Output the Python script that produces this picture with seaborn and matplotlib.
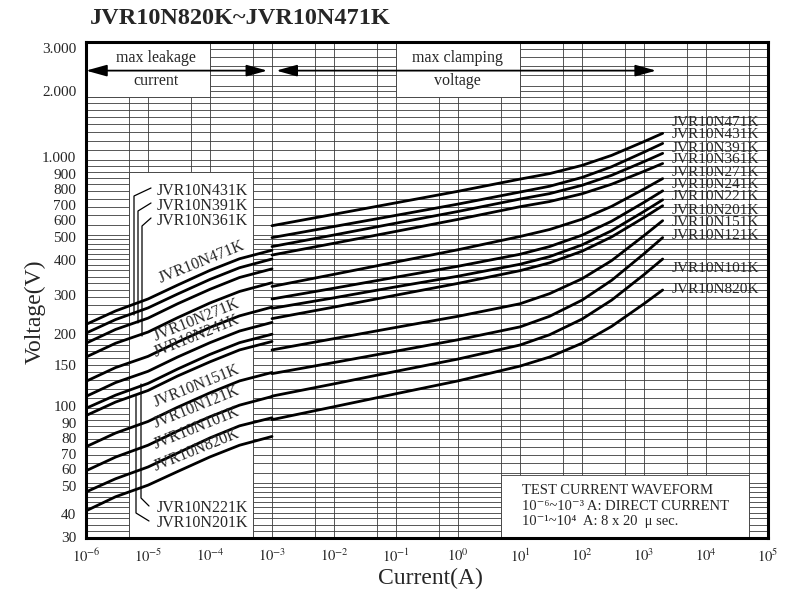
import numpy as np
import pandas as pd
import matplotlib
matplotlib.use('Agg')
import matplotlib.pyplot as plt
import seaborn as sns
from matplotlib.patches import Rectangle
from matplotlib.lines import Line2D
from matplotlib.ticker import FixedLocator, NullFormatter
from matplotlib.transforms import ScaledTranslation

sns.set_theme(style='white')
plt.rcParams['font.family'] = ['Liberation Serif', 'DejaVu Serif']
plt.rcParams['mathtext.fontset'] = 'stix'

# ---------------- data ----------------
names = ['JVR10N471K', 'JVR10N431K', 'JVR10N391K', 'JVR10N361K',
         'JVR10N271K', 'JVR10N241K', 'JVR10N221K', 'JVR10N201K',
         'JVR10N151K', 'JVR10N121K', 'JVR10N101K', 'JVR10N820K']

# leakage-current region (1e-6 .. 1e-3 A)
leak_current = [1e-6, 3e-6, 1e-5, 3e-5, 1e-4, 3e-4, 1e-3]
leak_471 = [218, 247, 276, 314, 360, 401, 434]
leak_431 = [201, 228, 254, 289, 331, 369, 400]
leak_391 = [183, 208, 231, 264, 302, 337, 365]
leak_361 = [161, 183, 203, 232, 266, 296, 321]
leak_271 = [128.5, 146, 162, 185, 212, 236, 256]
leak_241 = [111.7, 127, 141, 161, 184, 205, 222]
leak_221 = [100, 113, 126, 144, 165, 184, 199]
leak_201 = [93.5, 106, 118, 135, 154, 172, 186]
leak_151 = [70, 79.5, 88.5, 101, 115.5, 129, 139.5]
leak_121 = [56, 63.6, 71, 81, 92.5, 103, 111.6]
leak_101 = [46, 52, 58, 66, 76, 85, 91.6]
leak_820 = [38.6, 44, 49, 55.6, 63.7, 71, 77]

# clamping-voltage region (1e-3 .. 2e3 A)
clamp_current = [1e-3, 1e-2, 1e-1, 1, 10, 30, 100, 300, 1000, 2000]
clamp_471 = [545, 606, 674, 750, 840, 884, 954, 1047, 1190, 1285]
clamp_431 = [488, 541, 600, 666, 745, 786, 853, 942, 1079, 1170]
clamp_391 = [449, 500, 558, 622, 698, 734, 793, 870, 988, 1067]
clamp_361 = [415, 463, 517, 578, 650, 682, 733, 801, 903, 971]
clamp_271 = [310, 347, 389, 436, 493, 526, 579, 652, 766, 844]
clamp_241 = [276, 305, 338, 374, 418, 449, 499, 568, 677, 753]
clamp_221 = [253, 279, 309, 341, 381, 409, 456, 520, 622, 693]
clamp_201 = [230, 256, 286, 319, 359, 386, 430, 491, 588, 656]
clamp_151 = [172, 191, 212, 235, 264, 290, 333, 394, 497, 571]
clamp_121 = [138, 153, 170, 189, 213, 235, 273, 328, 420, 488]
clamp_101 = [112, 125.5, 141, 158, 180, 198, 229, 273, 346, 400]
clamp_820 = [90, 101.5, 114.5, 129, 148, 161, 183, 214, 264, 300]

leak_series = [leak_471, leak_431, leak_391, leak_361, leak_271, leak_241,
               leak_221, leak_201, leak_151, leak_121, leak_101, leak_820]
clamp_series = [clamp_471, clamp_431, clamp_391, clamp_361, clamp_271, clamp_241,
                clamp_221, clamp_201, clamp_151, clamp_121, clamp_101, clamp_820]

y_ticks = [30, 40, 50, 60, 70, 80, 90, 100, 150, 200, 300, 400, 500,
           600, 700, 800, 900, 1000, 2000, 3000]
y_ticklabels = ['30', '40', '50', '60', '70', '80', '90', '100', '150', '200',
                '300', '400', '500', '600', '700', '800', '900',
                '1.000', '2.000', '3.000']
x_exponents = list(range(-6, 6))

rows = []
for n, lv, cv in zip(names, leak_series, clamp_series):
    for c, v in zip(leak_current, lv):
        rows.append((n + '_leak', c, v))
    for c, v in zip(clamp_current, cv):
        rows.append((n + '_clamp', c, v))
df = pd.DataFrame(rows, columns=['segment', 'current', 'voltage'])

# ---------------- figure ----------------
W, H = 798, 595
fig = plt.figure(figsize=(W / 100, H / 100), dpi=100)
ax = fig.add_axes([86 / W, 1 - 538 / H, (768 - 86) / W, (538 - 42) / H])

for seg, g in df.groupby('segment', sort=False):
    sns.lineplot(data=g, x='current', y='voltage', ax=ax, color='black',
                 lw=2.0, sort=False, estimator=None, zorder=4)

ax.set_xscale('log')
ax.set_yscale('log')
ax.set_xlim(1e-6, 1e5)
ax.set_ylim(30, 3000)
ax.set_xlabel('')
ax.set_ylabel('')

# grid
ax.xaxis.set_major_locator(FixedLocator([10.0 ** e for e in x_exponents]))
ax.set_xticklabels([r'$10^{%d}$' % e for e in x_exponents], fontsize=10.5)
ax.xaxis.set_minor_locator(FixedLocator([5 * 10.0 ** e for e in range(-6, 5)]))
ax.xaxis.set_minor_formatter(NullFormatter())

hgrid = (list(range(30, 50, 2)) + list(range(50, 100, 5)) + list(range(100, 200, 10))
         + list(range(200, 500, 20)) + list(range(500, 1000, 50))
         + list(range(1000, 2000, 100)) + list(range(2000, 3001, 200)))
ax.yaxis.set_major_locator(FixedLocator(y_ticks))
ax.set_yticklabels(y_ticklabels, fontsize=11)
ax.yaxis.set_minor_locator(FixedLocator(hgrid))
ax.yaxis.set_minor_formatter(NullFormatter())

ax.set_axisbelow(True)
ax.grid(which='both', color='#3a3a3a', lw=0.6)
ax.tick_params(which='both', length=0)
ax.tick_params(axis='y', pad=7)
ax.tick_params(axis='x', pad=7)
for sp in ax.spines.values():
    sp.set_color('black')
    sp.set_linewidth(2.2)
    sp.set_zorder(6)

# the printed labels are spread apart where the log ticks crowd (pixels down)
label_shift = {3000: 6, 2000: 5, 1000: -3, 900: 2, 800: 5, 700: 6, 600: 5,
               500: 2, 400: 1, 300: 5, 100: -2, 90: 3, 80: 6, 70: 7, 60: 6,
               50: 3, 40: 7, 30: -1}
for lbl, val in zip(ax.get_yticklabels(), y_ticks):
    off = label_shift.get(val, 0)
    lbl.set_transform(lbl.get_transform()
                      + ScaledTranslation(0, -off / 100, fig.dpi_scale_trans))

# white label boxes that interrupt the grid
boxes = [((1e-6, 1800), (1e-4, 3000)),
         ((1e-1, 1800), (1e1, 3000)),
         ((5e-6, 30), (5e-4, 900)),
         ((5e0, 30), (5e4, 54))]
for (x0, y0), (x1, y1) in boxes:
    ax.add_patch(Rectangle((x0, y0), x1 - x0, y1 - y0, facecolor='white',
                           edgecolor='#3a3a3a', lw=0.6, zorder=1))

# arrows
arrow_kw = dict(arrowstyle='<|-|>,head_length=0.9,head_width=0.25', color='black',
                lw=1.3, shrinkA=0, shrinkB=0, mutation_scale=14)
ax.annotate('', xy=(1e-6, 2300), xytext=(8.4e-4, 2300), arrowprops=arrow_kw, zorder=5)
ax.annotate('', xy=(1.17e-3, 2300), xytext=(1570, 2300), arrowprops=arrow_kw, zorder=5)


def ptext(px, py, s, **kw):
    fig.text(px / W, 1 - py / H, s, **kw)


ptext(156, 58, 'max leakage', ha='center', va='center', fontsize=11.5)
ptext(156, 81, 'current', ha='center', va='center', fontsize=11.5)
ptext(457, 58, 'max clamping', ha='center', va='center', fontsize=11.5)
ptext(457, 81, 'voltage', ha='center', va='center', fontsize=11.5)

# title and axis labels
ptext(90, 19, 'JVR10N820K~JVR10N471K', ha='left', va='center', fontsize=17.5,
      fontweight='bold')
ptext(430, 578, 'Current(A)', ha='center', va='center', fontsize=17)
ptext(35, 312, 'Voltage(V)', ha='center', va='center', fontsize=17, rotation=90)

# right-hand curve labels
right_y = [123, 135, 148, 160, 172, 185, 197, 210, 222, 236, 268, 289]
for n, py in zip(names, right_y):
    ptext(672, py, n, ha='left', va='center', fontsize=11)

# rotated labels on left curves
rot_labels = [('JVR10N471K', 202, 262), ('JVR10N271K', 197, 320),
              ('JVR10N241K', 197, 336), ('JVR10N151K', 197, 386),
              ('JVR10N121K', 197, 407), ('JVR10N101K', 197, 428),
              ('JVR10N820K', 197, 450)]
for s, px, py in rot_labels:
    ptext(px, py, s, ha='center', va='center', fontsize=11.5, rotation=22,
          rotation_mode='anchor')

# labels with leader lines inside the left box
ptext(157, 191, 'JVR10N431K', ha='left', va='center', fontsize=11.5)
ptext(157, 206, 'JVR10N391K', ha='left', va='center', fontsize=11.5)
ptext(157, 221, 'JVR10N361K', ha='left', va='center', fontsize=11.5)
ptext(157, 508, 'JVR10N221K', ha='left', va='center', fontsize=11.5)
ptext(157, 523, 'JVR10N201K', ha='left', va='center', fontsize=11.5)

leaders = [[(151, 188), (134, 196), (134, 315)],
           [(151, 203), (138, 211), (138, 323)],
           [(151, 218), (142, 226), (142, 336)],
           [(149, 506), (141, 498), (141, 384)],
           [(149, 521), (136, 513), (136, 396)]]
for pts in leaders:
    xs = [p[0] / W for p in pts]
    ys = [1 - p[1] / H for p in pts]
    fig.add_artist(Line2D(xs, ys, transform=fig.transFigure, color='black', lw=0.9))

# test-waveform note
ptext(522, 490, 'TEST CURRENT WAVEFORM', ha='left', va='center', fontsize=10.5)
ptext(522, 506, '10⁻⁶~10⁻³ A: DIRECT CURRENT', ha='left', va='center',
      fontsize=10.5)
ptext(522, 521, '10⁻¹~10⁴  A: 8 x 20  μ sec.', ha='left', va='center',
      fontsize=10.5)

fig.savefig('out.png', dpi=100, facecolor='white')
